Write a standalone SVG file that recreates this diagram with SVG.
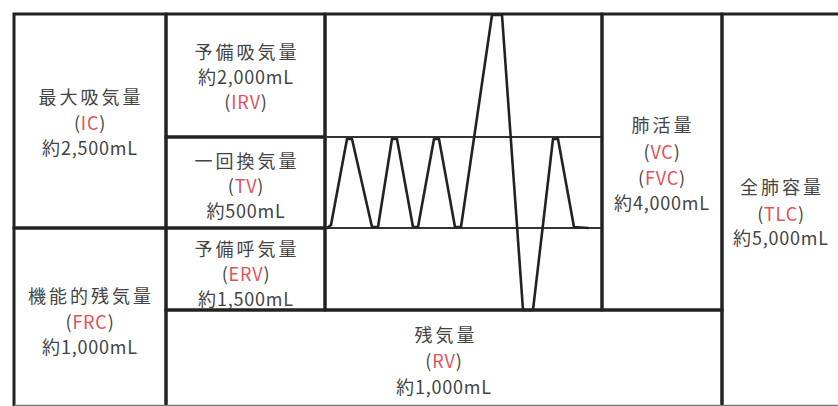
<svg xmlns="http://www.w3.org/2000/svg" width="838" height="406" viewBox="0 0 838 406">
<style>
.box{fill:none;stroke:#222;stroke-width:3}
.thin{fill:none;stroke:#333;stroke-width:2}
.t{font-family:"Noto Sans CJK JP","Noto Sans",sans-serif;font-size:18px;fill:#444;text-anchor:middle;letter-spacing:0.8px}
.j{letter-spacing:3px}
.r{fill:#e5505a}
.wave{fill:none;stroke:#222;stroke-width:2.6;stroke-linejoin:round;stroke-linecap:round}
</style>
<rect width="838" height="406" fill="#fff"/>
<g id="IC">
<rect class="box" x="14" y="14" width="152" height="214"/>
<text class="t j" x="91" y="104">最大吸気量</text>
<text class="t" x="90" y="130">(<tspan class="r">IC</tspan>)</text>
<text class="t" x="90" y="155">約2,500mL</text>
</g>
<g id="FRC">
<rect class="box" x="14" y="228" width="152" height="190"/>
<text class="t j" x="91" y="303">機能的残気量</text>
<text class="t" x="90" y="329">(<tspan class="r">FRC</tspan>)</text>
<text class="t" x="90" y="354">約1,000mL</text>
</g>
<g id="IRV">
<rect class="box" x="166" y="14" width="159" height="123"/>
<text class="t j" x="247" y="59">予備吸気量</text>
<text class="t" x="246" y="84">約2,000mL</text>
<text class="t" x="246" y="109">(<tspan class="r">IRV</tspan>)</text>
</g>
<g id="TV">
<rect class="box" x="166" y="137" width="159" height="91"/>
<text class="t j" x="247" y="168">一回換気量</text>
<text class="t" x="246" y="193">(<tspan class="r">TV</tspan>)</text>
<text class="t" x="246" y="218">約500mL</text>
</g>
<g id="ERV">
<rect class="box" x="166" y="228" width="159" height="82"/>
<text class="t j" x="247" y="256">予備呼気量</text>
<text class="t" x="246" y="281">(<tspan class="r">ERV</tspan>)</text>
<text class="t" x="246" y="306">約1,500mL</text>
</g>
<g id="RV">
<rect class="box" x="166" y="310" width="556" height="108"/>
<text class="t j" x="446" y="342">残気量</text>
<text class="t" x="444" y="368">(<tspan class="r">RV</tspan>)</text>
<text class="t" x="444" y="394">約1,000mL</text>
</g>
<g id="spirogram">
<rect class="box" x="325" y="14" width="277" height="296"/>
<line class="thin" x1="325" y1="137" x2="602" y2="137"/>
<line class="thin" x1="325" y1="228" x2="602" y2="228"/>
<path class="wave" d="M327,228 L331,225 L347,139 L352,139 L372,227 L378,227 L392,139 L397,139 L413,227 L418,227 L434,139 L439,139 L455,227 L461,227 L492,15 L502,15 L523,310 L533,310 L553,139 L558,139 L574,227 L588,228"/>
</g>
<g id="VC">
<rect class="box" x="602" y="14" width="120" height="296"/>
<text class="t j" x="663" y="132">肺活量</text>
<text class="t" x="662" y="159">(<tspan class="r">VC</tspan>)</text>
<text class="t" x="662" y="185">(<tspan class="r">FVC</tspan>)</text>
<text class="t" x="662" y="210">約4,000mL</text>
</g>
<g id="TLC">
<path class="box" d="M722,418 V14 H845"/>
<text class="t j" x="782" y="194">全肺容量</text>
<text class="t" x="781" y="221">(<tspan class="r">TLC</tspan>)</text>
<text class="t" x="781" y="245">約5,000mL</text>
</g>
<g id="connectors"></g>
<line x1="14" y1="405.5" x2="838" y2="405.5" stroke="#777" stroke-width="1.5"/>
</svg>
